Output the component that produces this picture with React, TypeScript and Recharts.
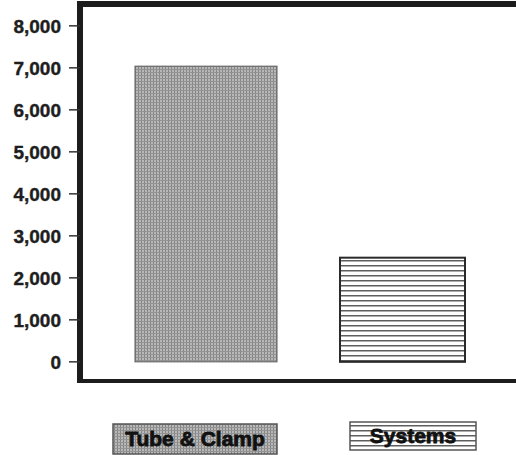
import { BarChart, Bar, XAxis, YAxis } from 'recharts';

const categories = ['Tube & Clamp', 'Systems'];
const values = [7040, 2480];
const yTicks = [0, 1000, 2000, 3000, 4000, 5000, 6000, 7000, 8000];

const fills = ['url(#stipple)', 'url(#hlines)'];
const strokes = ['#5a5a5a', '#2a2a2a'];
const strokeWidths = [1, 2];
const barWidths = [142, 125];

const data = categories.map((name, i) => ({ name, value: values[i] }));

const frame = { stroke: '#1c1c1c', strokeWidth: 6, strokeLinecap: 'square' as const };
const font = '"Liberation Sans", Arial, sans-serif';

function PatternBar(props: any) {
  const { x, y, width, height, payload } = props;
  let i = categories.indexOf(payload?.name);
  if (i < 0) i = props.index ?? 0;
  const w = barWidths[i];
  const cx = x + width / 2;
  return (
    <rect
      x={cx - w / 2}
      y={y}
      width={w}
      height={height}
      fill={fills[i]}
      stroke={strokes[i]}
      strokeWidth={strokeWidths[i]}
    />
  );
}

function fmt(v: number) {
  return v.toLocaleString('en-US');
}

function Patterns() {
  return (
    <defs>
      <pattern id="stipple" width="3" height="3" patternUnits="userSpaceOnUse">
        <rect width="3" height="3" fill="#b8b8b8" />
        <rect width="1" height="3" fill="#858585" />
        <rect width="3" height="1" fill="#939393" />
      </pattern>
      <pattern id="hlines" width="8" height="5" patternUnits="userSpaceOnUse">
        <rect width="8" height="5" fill="#ffffff" />
        <rect width="8" height="1.5" fill="#5e5e5e" />
      </pattern>
    </defs>
  );
}

export default function App() {
  return (
    <div
      style={{
        position: 'absolute',
        left: 0,
        top: 0,
        width: 516,
        height: 455,
        overflow: 'hidden',
        background: '#fff',
      }}
    >
      <BarChart
        width={540}
        height={383}
        data={data}
        margin={{ top: 3, right: 0, bottom: 0, left: 0 }}
      >
        <Patterns />
        <XAxis
          dataKey="name"
          height={1}
          tick={false}
          tickLine={false}
          axisLine={frame}
          padding={{ left: 28, right: 39 }}
        />
        <XAxis
          xAxisId="top"
          orientation="top"
          dataKey="name"
          height={1}
          tick={false}
          tickLine={false}
          axisLine={frame}
        />
        <YAxis
          width={80}
          domain={[-480, 8520]}
          ticks={yTicks}
          interval={0}
          tickSize={11}
          tickMargin={8}
          tickFormatter={fmt}
          axisLine={frame}
          tickLine={{ stroke: '#333', strokeWidth: 1.5 }}
          tick={{
            fill: '#1e1e1e',
            stroke: '#1e1e1e',
            strokeWidth: 0.4,
            fontSize: 19,
            fontWeight: 700,
            fontFamily: font,
          }}
        />
        <Bar dataKey="value" barSize={140} shape={PatternBar} isAnimationActive={false} />
      </BarChart>
      <svg
        width={516}
        height={55}
        style={{ position: 'absolute', left: 0, top: 400 }}
      >
        {categories.map((name, i) => {
          const box = i === 0 ? { x: 113, y: 24, w: 164, h: 30 } : { x: 350, y: 22, w: 126, h: 28 };
          return (
            <g key={name}>
              <rect
                x={box.x}
                y={box.y}
                width={box.w}
                height={box.h}
                fill={fills[i]}
                stroke="#555"
                strokeWidth={1.5}
              />
              <text
                x={box.x + box.w / 2}
                y={box.y + box.h / 2 + 7}
                textAnchor="middle"
                fontFamily={font}
                fontWeight={700}
                fontSize={21}
                fill="#111"
                stroke="#111"
                strokeWidth={0.8}
              >
                {name}
              </text>
            </g>
          );
        })}
      </svg>
    </div>
  );
}
